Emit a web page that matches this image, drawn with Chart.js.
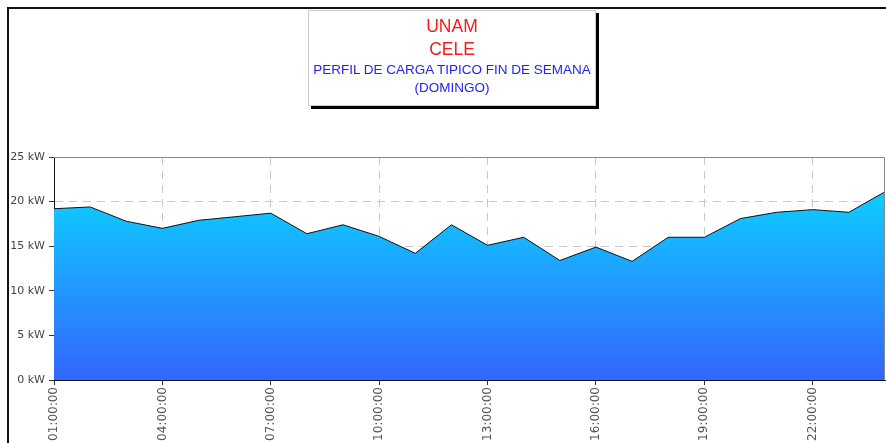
<!DOCTYPE html>
<html>
<head>
<meta charset="utf-8">
<script src="https://cdn.jsdelivr.net/npm/chart.js@4/dist/chart.umd.min.js"></script>
<style>
  html, body { margin: 0; padding: 0; background: #fff; }
  #wrap { position: relative; width: 886px; height: 443px; overflow: hidden; }
  #frame { position: absolute; left: 7px; top: 7px; width: 900px; height: 450px;
    border-top: 2px solid #111; border-left: 2px solid #111; }
  #chart { position: absolute; left: 0; top: 0; }
  #titleBox { position: absolute; left: 308px; top: 10px; width: 286px; height: 94px;
    background: #fff; border: 1px solid #ccc; box-shadow: 3px 3px 0 #000;
    font-family: "Liberation Sans", Arial, sans-serif; text-align: center; }
  #titleBox .red { color: #ff1a1a; font-size: 17.5px; line-height: 23px; }
  #titleBox .blue { color: #2323ff; font-size: 13.5px; line-height: 18px; }
</style>
</head>
<body>
<div id="wrap">
  <div id="frame"></div>
  <canvas id="chart" width="886" height="443"></canvas>
  <div id="titleBox">
    <div class="red" style="margin-top:4px">UNAM</div>
    <div class="red">CELE</div>
    <div class="blue">PERFIL DE CARGA TIPICO FIN DE SEMANA</div>
    <div class="blue">(DOMINGO)</div>
  </div>
</div>
<script>
const hours = ['01:00:00', '02:00:00', '03:00:00', '04:00:00', '05:00:00', '06:00:00',
  '07:00:00', '08:00:00', '09:00:00', '10:00:00', '11:00:00', '12:00:00',
  '13:00:00', '14:00:00', '15:00:00', '16:00:00', '17:00:00', '18:00:00',
  '19:00:00', '20:00:00', '21:00:00', '22:00:00', '23:00:00', '24:00:00'];
const loadKw = [19.2, 19.4, 17.8, 17.0, 17.9, 18.3, 18.7, 16.4, 17.4, 16.1, 14.2, 17.4,
  15.1, 16.0, 13.4, 14.9, 13.3, 16.0, 16.0, 18.1, 18.8, 19.1, 18.8, 21.1];
const yTicks = [0, 5, 10, 15, 20, 25];

// top + right border of the plot area
const plotBorder = {
  id: 'plotBorder',
  afterDraw(chart) {
    const { ctx, chartArea: a } = chart;
    ctx.save();
    ctx.strokeStyle = '#888';
    ctx.lineWidth = 1;
    ctx.beginPath();
    ctx.moveTo(a.left, a.top + 0.5);
    ctx.lineTo(a.right - 0.5, a.top + 0.5);
    ctx.lineTo(a.right - 0.5, a.bottom);
    ctx.stroke();
    ctx.restore();
  }
};

new Chart(document.getElementById('chart'), {
  type: 'line',
  data: {
    labels: hours,
    datasets: [{
      data: loadKw,
      borderColor: '#111',
      borderWidth: 1,
      pointRadius: 0,
      tension: 0,
      fill: 'origin',
      backgroundColor: ctx => {
        const a = ctx.chart.chartArea;
        if (!a) return '#1ab0ff';
        const g = ctx.chart.ctx.createLinearGradient(0, a.top, 0, a.bottom);
        g.addColorStop(0, '#00d4ff');
        g.addColorStop(0.2, '#10c8ff');
        g.addColorStop(1, '#3366ff');
        return g;
      }
    }]
  },
  options: {
    responsive: false,
    animation: false,
    layout: { padding: { top: 157, right: 1, left: 0, bottom: 0 } },
    plugins: { legend: { display: false }, tooltip: { enabled: false } },
    scales: {
      x: {
        offset: false,
        grid: {
          color: c => c.index % 3 === 0 ? '#c8c8c8' : 'rgba(0,0,0,0)',
          tickColor: c => c.index % 3 === 0 ? '#333' : 'rgba(0,0,0,0)',
          tickLength: 5
        },
        border: { color: '#111', dash: [8, 6] },
        ticks: {
          autoSkip: false,
          maxRotation: 90,
          minRotation: 90,
          padding: 2,
          color: '#555',
          font: { family: 'DejaVu Sans, Verdana, sans-serif', size: 12 },
          callback: (v, i) => i % 3 === 0 ? hours[i] : ''
        },
        afterFit: s => { s.height = 63; s.paddingLeft = 0; s.paddingRight = 0; }
      },
      y: {
        min: 0,
        max: 25,
        afterBuildTicks: s => { s.ticks = yTicks.map(v => ({ value: v })); },
        border: { color: '#111', width: 1, dash: [8, 6] },
        grid: {
          color: c => (c.tick && (c.tick.value === 0 || c.tick.value === 25)) ? 'rgba(0,0,0,0)' : '#c8c8c8',
          tickColor: '#333',
          tickLength: 5
        },
        ticks: {
          padding: 4,
          color: '#444',
          font: { family: 'DejaVu Sans, Verdana, sans-serif', size: 11 },
          callback: v => v + ' kW'
        },
        afterFit: s => { s.width = 54; s.paddingTop = 0; s.paddingBottom = 0; }
      }
    }
  },
  plugins: [plotBorder]
});
</script>
</body>
</html>
